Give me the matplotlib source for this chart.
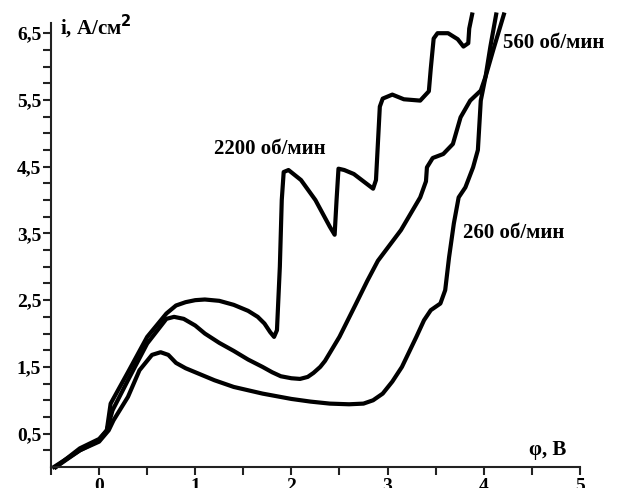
import matplotlib
matplotlib.use("Agg")
import matplotlib.pyplot as plt

# rotation speed curves, potential phi (V) vs current density i (A/cm2)
phi_2200 = [-0.45, -0.2, 0.0, 0.08, 0.12, 0.3, 0.5, 0.7, 0.8, 0.9, 1.0, 1.1,
            1.25, 1.4, 1.55, 1.65, 1.72, 1.78, 1.82, 1.85, 1.88, 1.9, 1.92,
            1.97, 2.1, 2.25, 2.4, 2.45, 2.47, 2.49, 2.55, 2.65, 2.75, 2.85,
            2.88, 2.92, 2.95, 3.05, 3.17, 3.34, 3.43, 3.45, 3.48, 3.52, 3.63,
            3.73, 3.79, 3.84, 3.85, 3.88]
i_2200 = [0.0, 0.28, 0.42, 0.55, 0.95, 1.42, 1.95, 2.3, 2.42, 2.47, 2.5, 2.51,
          2.49, 2.43, 2.34, 2.25, 2.15, 2.02, 1.95, 2.05, 3.0, 4.0, 4.42,
          4.45, 4.3, 4.0, 3.6, 3.48, 4.0, 4.47, 4.45, 4.39, 4.28, 4.17,
          4.3, 5.4, 5.52, 5.58, 5.51, 5.49, 5.63, 5.97, 6.42, 6.5, 6.5,
          6.41, 6.3, 6.35, 6.57, 6.78]

phi_560 = [-0.47, -0.2, 0.0, 0.08, 0.14, 0.3, 0.5, 0.7, 0.78, 0.88, 1.0, 1.1,
           1.25, 1.4, 1.55, 1.7, 1.8, 1.89, 2.0, 2.09, 2.17, 2.23, 2.3, 2.35,
           2.5, 2.67, 2.79, 2.9, 3.14, 3.34, 3.4, 3.41, 3.47, 3.58, 3.68, 3.76,
           3.86, 3.97, 4.02, 4.1, 4.21]
i_560 = [0.0, 0.25, 0.4, 0.55, 0.85, 1.3, 1.85, 2.22, 2.25, 2.22, 2.12, 2.0,
         1.86, 1.74, 1.61, 1.5, 1.42, 1.36, 1.33, 1.32, 1.35, 1.41, 1.5, 1.59,
         1.95, 2.44, 2.79, 3.09, 3.55, 4.04, 4.28, 4.49, 4.63, 4.69, 4.84,
         5.24, 5.49, 5.64, 5.85, 6.25, 6.78]

phi_260 = [-0.45, -0.2, 0.0, 0.1, 0.15, 0.3, 0.42, 0.55, 0.64, 0.72, 0.8, 0.9,
           1.0, 1.2, 1.4, 1.7, 2.0, 2.2, 2.4, 2.6, 2.75, 2.85, 2.95, 3.05,
           3.15, 3.3, 3.38, 3.45, 3.55, 3.6, 3.64, 3.69, 3.74, 3.81, 3.89,
           3.94, 3.97, 4.02, 4.07, 4.13]
i_260 = [0.0, 0.25, 0.38, 0.55, 0.7, 1.05, 1.45, 1.68, 1.72, 1.68, 1.56, 1.48,
         1.42, 1.3, 1.2, 1.1, 1.02, 0.98, 0.95, 0.94, 0.95, 1.0, 1.1, 1.28,
         1.5, 1.95, 2.2, 2.35, 2.45, 2.65, 3.14, 3.65, 4.04, 4.19, 4.49,
         4.75, 5.49, 5.85, 6.3, 6.78]

x_ticks = [0, 1, 2, 3, 4, 5]
y_ticks = [0.5, 1.5, 2.5, 3.5, 4.5, 5.5, 6.5]
y_tick_labels = ["0,5", "1,5", "2,5", "3,5", "4,5", "5,5", "6,5"]

serif = ["Liberation Serif", "DejaVu Serif"]

fig = plt.figure(figsize=(6.17, 4.88), dpi=100)
ax = fig.add_axes([0.0827, 0.043, 0.857, 0.930])

for phi, cur in [(phi_2200, i_2200), (phi_560, i_560), (phi_260, i_260)]:
    ax.plot(phi, cur, color="black", linewidth=3, solid_joinstyle="round",
            clip_on=False)

ax.set_xlim(-0.5, 5)
ax.set_ylim(0, 6.8)

ax.spines["top"].set_visible(False)
ax.spines["right"].set_visible(False)
ax.spines["left"].set_bounds(0, 6.66)
for s in ("left", "bottom"):
    ax.spines[s].set_linewidth(1.5)
    ax.spines[s].set_color("#222222")

ax.set_xticks(x_ticks)
ax.set_xticks([-0.5, 0.5, 1.5, 2.5, 3.5, 4.5], minor=True)
ax.set_yticks(y_ticks)
ax.set_yticklabels(y_tick_labels)
ax.set_yticks([0.25 * k for k in range(1, 27)], minor=True)
ax.tick_params(which="both", direction="out", length=6, width=1.5,
               color="#222222")
ax.tick_params(axis="x", pad=2)
ax.tick_params(axis="y", pad=1)
for lab in ax.get_xticklabels() + ax.get_yticklabels():
    lab.set_family(serif)
    lab.set_fontweight("bold")
    lab.set_fontsize(14)

txt = dict(family=serif, fontweight="bold", fontsize=15, color="black")
ax.text(-0.41, 6.6, "i, А/см$^{\\mathbf{2}}$", ha="left", va="center", **txt)
ax.text(4.47, 0.25, "φ, В", ha="left", va="center", **txt)
ax.text(1.78, 4.76, "2200 об/мин", ha="center", va="center", **txt)
ax.text(4.2, 6.35, "560 об/мин", ha="left", va="center", **txt)
ax.text(3.79, 3.5, "260 об/мин", ha="left", va="center", **txt)

fig.savefig("out.png", dpi=100)
